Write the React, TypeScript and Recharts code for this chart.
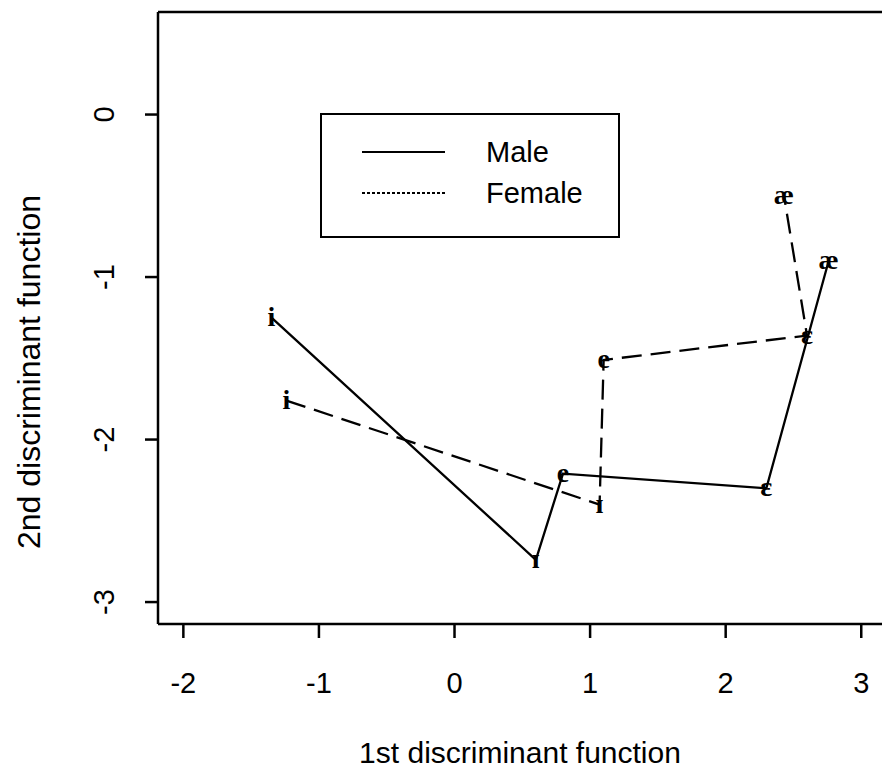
import { LineChart, Line, XAxis, YAxis, ReferenceLine } from 'recharts'

// vowel positions on the two discriminant functions
const vowels = ['i', 'ɪ', 'e', 'ɛ', 'æ']
const maleX = [-1.35, 0.6, 0.8, 2.3, 2.76]
const maleY = [-1.25, -2.74, -2.21, -2.3, -0.9]
const femaleX = [-1.24, 1.07, 1.1, 2.6, 2.43]
const femaleY = [-1.76, -2.4, -1.51, -1.36, -0.5]

const xTicks = [-2, -1, 0, 1, 2, 3]
const yTicks = [-3, -2, -1, 0]
const xDomain = [-2.187, 3.153]
const yDomain = [-3.135, 0.631]

const maleData = vowels.map((v, i) => ({ v, x: maleX[i], y: maleY[i] }))
const femaleData = vowels.map((v, i) => ({ v, x: femaleX[i], y: femaleY[i] }))

const sans = "'Liberation Sans', Arial, Helvetica, sans-serif"
const serif = "'Liberation Serif', 'DejaVu Serif', serif"

const legendItems = [
  { name: 'Male', dash: undefined },
  { name: 'Female', dash: '3 2' },
]

const VowelDot = ({ cx, cy, payload }: any) => (
  <text
    x={cx}
    y={cy + 8}
    textAnchor="middle"
    fontFamily={serif}
    fontWeight={700}
    fontSize={28}
    fill="#000"
  >
    {payload.v}
  </text>
)

const XTick = ({ x, y, payload }: any) => (
  <text x={x} y={y + 43} textAnchor="middle" dominantBaseline="central" fontFamily={sans} fontSize={29} fill="#000">
    {payload.value}
  </text>
)

const YTick = ({ x, y, payload }: any) => (
  <text
    x={x - 39}
    y={y}
    textAnchor="middle"
    dominantBaseline="central"
    fontFamily={sans}
    fontSize={29}
    fill="#000"
    transform={`rotate(-90, ${x - 39}, ${y})`}
  >
    {payload.value}
  </text>
)

const LegendBox = () => (
  <div
    style={{
      position: 'absolute',
      left: 320,
      top: 113,
      width: 296,
      height: 121,
      border: '2px solid #000',
      background: '#fff',
    }}
  >
    <svg width={296} height={121} style={{ position: 'absolute', left: 0, top: 0 }}>
      {legendItems.map((item, i) => (
        <g key={item.name}>
          <line x1={40} x2={123} y1={37 + i * 41} y2={37 + i * 41} stroke="#000" strokeWidth={2} strokeDasharray={item.dash} />
          <text x={164} y={37 + i * 41} dominantBaseline="central" fontFamily={sans} fontSize={29} fill="#000">
            {item.name}
          </text>
        </g>
      ))}
    </svg>
  </div>
)

export default function App() {
  return (
    <div style={{ position: 'absolute', left: 0, top: 0, width: 882, height: 777, background: '#fff' }}>
      <LineChart width={882} height={777} margin={{ top: 12, right: 0, bottom: 0, left: 0 }}>
        <XAxis
          type="number"
          dataKey="x"
          domain={xDomain}
          ticks={xTicks}
          interval={0}
          allowDataOverflow
          height={153}
          tickSize={14}
          axisLine={{ stroke: '#000', strokeWidth: 2.5 }}
          tickLine={{ stroke: '#000', strokeWidth: 2.5 }}
          tick={XTick}
          label={({ viewBox }: any) => (
            <text
              x={viewBox.x + viewBox.width / 2}
              y={752}
              textAnchor="middle"
              dominantBaseline="central"
              fontFamily={sans}
              fontSize={30}
              fill="#000"
            >
              1st discriminant function
            </text>
          )}
        />
        <YAxis
          type="number"
          dataKey="y"
          domain={yDomain}
          ticks={yTicks}
          interval={0}
          allowDataOverflow
          width={158}
          tickSize={13}
          axisLine={{ stroke: '#000', strokeWidth: 2.5 }}
          tickLine={{ stroke: '#000', strokeWidth: 2.5 }}
          tick={YTick}
          label={({ viewBox }: any) => (
            <text
              x={29}
              y={viewBox.y + viewBox.height / 2 + 54}
              textAnchor="middle"
              dominantBaseline="central"
              fontFamily={sans}
              fontSize={32}
              fill="#000"
              transform={`rotate(-90, 29, ${viewBox.y + viewBox.height / 2 + 54})`}
            >
              2nd discriminant function
            </text>
          )}
        />
        <ReferenceLine y={yDomain[1]} stroke="#000" strokeWidth={2.5} ifOverflow="visible" />
        <Line
          name="Male"
          data={maleData}
          dataKey="y"
          type="linear"
          stroke="#000"
          strokeWidth={2.3}
          dot={VowelDot}
          activeDot={false}
          isAnimationActive={false}
        />
        <Line
          name="Female"
          data={femaleData}
          dataKey="y"
          type="linear"
          stroke="#000"
          strokeWidth={2.3}
          strokeDasharray="20 9"
          dot={VowelDot}
          activeDot={false}
          isAnimationActive={false}
        />
      </LineChart>
      <LegendBox />
    </div>
  )
}
